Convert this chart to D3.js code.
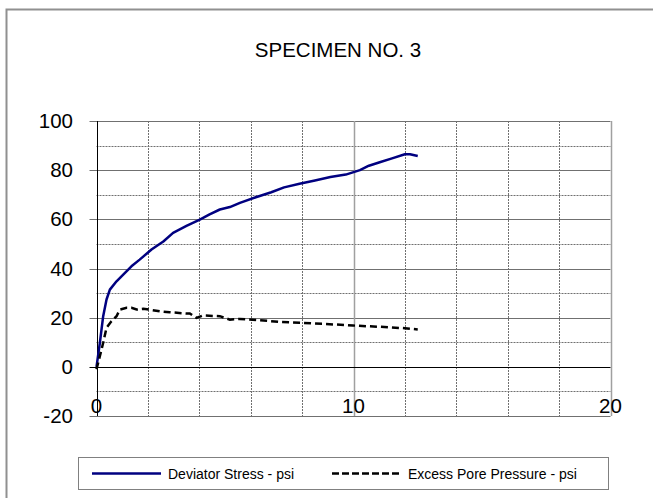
<!DOCTYPE html>
<html>
<head>
  <meta charset="utf-8">
  <title>Specimen No. 3</title>
  <script src="https://cdn.jsdelivr.net/npm/d3@7"></script>
  <style>
    body { margin: 0; background: #fff; }
    text { font-family: "Liberation Sans", Arial, sans-serif; fill: #000; }
  </style>
</head>
<body>
  <script>
    // strain (x) vs psi (y)
    const deviatorX = [0, 0.13, 0.26, 0.39, 0.52, 0.78, 1.04, 1.36, 1.68, 2.14, 2.6, 2.98, 3.5, 4.02, 4.4, 4.8, 5.19, 5.58, 6.2, 6.8, 7.3, 7.9, 8.5, 9.1, 9.7, 10.25, 10.6, 11.02, 11.5, 12.0, 12.2, 12.5];
    const deviatorY = [0, 9.7, 20.6, 27.4, 31.4, 34.8, 37.5, 40.9, 43.6, 47.7, 51, 54.5, 57.3, 59.9, 62, 64, 65, 66.7, 69, 71, 73, 74.5, 75.8, 77.2, 78.2, 80, 81.8, 83.2, 84.8, 86.5, 86.5, 85.8];
    const poreX = [0, 0.13, 0.26, 0.39, 0.58, 0.78, 0.91, 1.17, 1.36, 1.56, 1.82, 2.1, 2.46, 2.85, 3.5, 3.63, 3.89, 4.15, 4.8, 5.19, 5.58, 6.3, 7.13, 7.91, 8.82, 9.98, 11.02, 12.0, 12.5];
    const poreY = [-1, 4.3, 9.8, 15.9, 18.5, 20.6, 23.3, 24, 24, 23.3, 23.6, 23.2, 22.6, 22.2, 21.7, 21.7, 19.9, 20.9, 20.6, 19.2, 19.5, 19, 18.3, 17.9, 17.5, 16.8, 16.3, 15.7, 15.2];
    const yTicks = [-20, 0, 20, 40, 60, 80, 100];
    const xTicks = [0, 10, 20];
    const seriesNames = ['Deviator Stress - psi', 'Excess Pore Pressure - psi'];

    const W = 653, H = 498;
    const svg = d3.select('body').append('svg')
      .attr('width', W)
      .attr('height', H);

    // outer chart frame (right/bottom edges fall outside the picture)
    svg.append('path')
      .attr('d', 'M6.5,' + H + 'V9.5H' + W)
      .attr('fill', 'none')
      .attr('stroke', '#909090')
      .attr('stroke-width', 2);

    svg.append('text')
      .attr('x', 338)
      .attr('y', 57)
      .attr('text-anchor', 'middle')
      .style('font-size', '20.5px')
      .text('SPECIMEN NO. 3');

    const x = d3.scaleLinear().domain([0, 20]).range([96.5, 610.5]);
    const y = d3.scaleLinear().domain([-20, 100]).range([416, 121]);

    const grid = svg.append('g');

    // minor gridlines (dotted)
    grid.selectAll('.vminor')
      .data(d3.range(2, 20, 2).filter(d => d !== 10))
      .enter().append('line')
      .attr('x1', d => Math.round(x(d)) + 0.5).attr('x2', d => Math.round(x(d)) + 0.5)
      .attr('y1', y(100)).attr('y2', y(-20))
      .attr('stroke', '#707070')
      .attr('stroke-dasharray', '2,1');

    grid.selectAll('.hminor')
      .data([-10, 10, 30, 50, 70, 90])
      .enter().append('line')
      .attr('x1', x(0)).attr('x2', x(20))
      .attr('y1', d => Math.round(y(d)) + 0.5).attr('y2', d => Math.round(y(d)) + 0.5)
      .attr('stroke', '#707070')
      .attr('stroke-dasharray', '2,1');

    // major gridlines (solid)
    grid.selectAll('.hmajor')
      .data(yTicks.filter(d => d !== 0))
      .enter().append('line')
      .attr('x1', x(0) - 7).attr('x2', x(20))
      .attr('y1', d => Math.round(y(d)) + 0.5).attr('y2', d => Math.round(y(d)) + 0.5)
      .attr('stroke', '#707070');

    grid.selectAll('.vmajor')
      .data([10, 20])
      .enter().append('line')
      .attr('x1', d => Math.round(x(d)) + 0.5).attr('x2', d => Math.round(x(d)) + 0.5)
      .attr('y1', y(100)).attr('y2', y(-20))
      .attr('stroke', '#a0a0a0')
      .attr('stroke-width', 1.5);

    // axes in black
    svg.append('line')
      .attr('x1', x(0) - 7).attr('x2', x(20))
      .attr('y1', Math.round(y(0)) + 0.5).attr('y2', Math.round(y(0)) + 0.5)
      .attr('stroke', '#000');
    svg.append('line')
      .attr('x1', Math.round(x(0)) + 0.5).attr('x2', Math.round(x(0)) + 0.5)
      .attr('y1', y(100)).attr('y2', y(-20))
      .attr('stroke', '#000');

    svg.selectAll('.ylab')
      .data(yTicks)
      .enter().append('text')
      .attr('x', 73)
      .attr('y', d => y(d) + 7)
      .attr('text-anchor', 'end')
      .style('font-size', '20.5px')
      .text(d => d);

    svg.selectAll('.xlab')
      .data(xTicks)
      .enter().append('text')
      .attr('x', d => x(d))
      .attr('y', 413)
      .attr('text-anchor', 'middle')
      .style('font-size', '20.5px')
      .text(d => d);

    const line = d3.line()
      .x(d => x(d[0]))
      .y(d => y(d[1]));

    svg.append('path')
      .datum(deviatorX.map((v, i) => [v, deviatorY[i]]))
      .attr('d', line)
      .attr('fill', 'none')
      .attr('stroke', '#000080')
      .attr('stroke-width', 2.5)
      .attr('stroke-linejoin', 'round');

    svg.append('path')
      .datum(poreX.map((v, i) => [v, poreY[i]]))
      .attr('d', line)
      .attr('fill', 'none')
      .attr('stroke', '#000')
      .attr('stroke-width', 2.5)
      .attr('stroke-dasharray', '7,4');

    // legend
    const lg = svg.append('g');
    lg.append('rect')
      .attr('x', 78.5).attr('y', 457.5)
      .attr('width', 530).attr('height', 32)
      .attr('fill', '#fff')
      .attr('stroke', '#808080');

    const legendItems = [
      { name: seriesNames[0], x0: 92, color: '#000080', dash: null },
      { name: seriesNames[1], x0: 332, color: '#000', dash: '7,3' }
    ];
    legendItems.forEach(it => {
      lg.append('line')
        .attr('x1', it.x0).attr('x2', it.x0 + 69)
        .attr('y1', 473.5).attr('y2', 473.5)
        .attr('stroke', it.color)
        .attr('stroke-width', 2.5)
        .attr('stroke-dasharray', it.dash);
      lg.append('text')
        .attr('x', it.x0 + 76)
        .attr('y', 478.5)
        .style('font-size', '14px')
        .text(it.name);
    });
  </script>
</body>
</html>
